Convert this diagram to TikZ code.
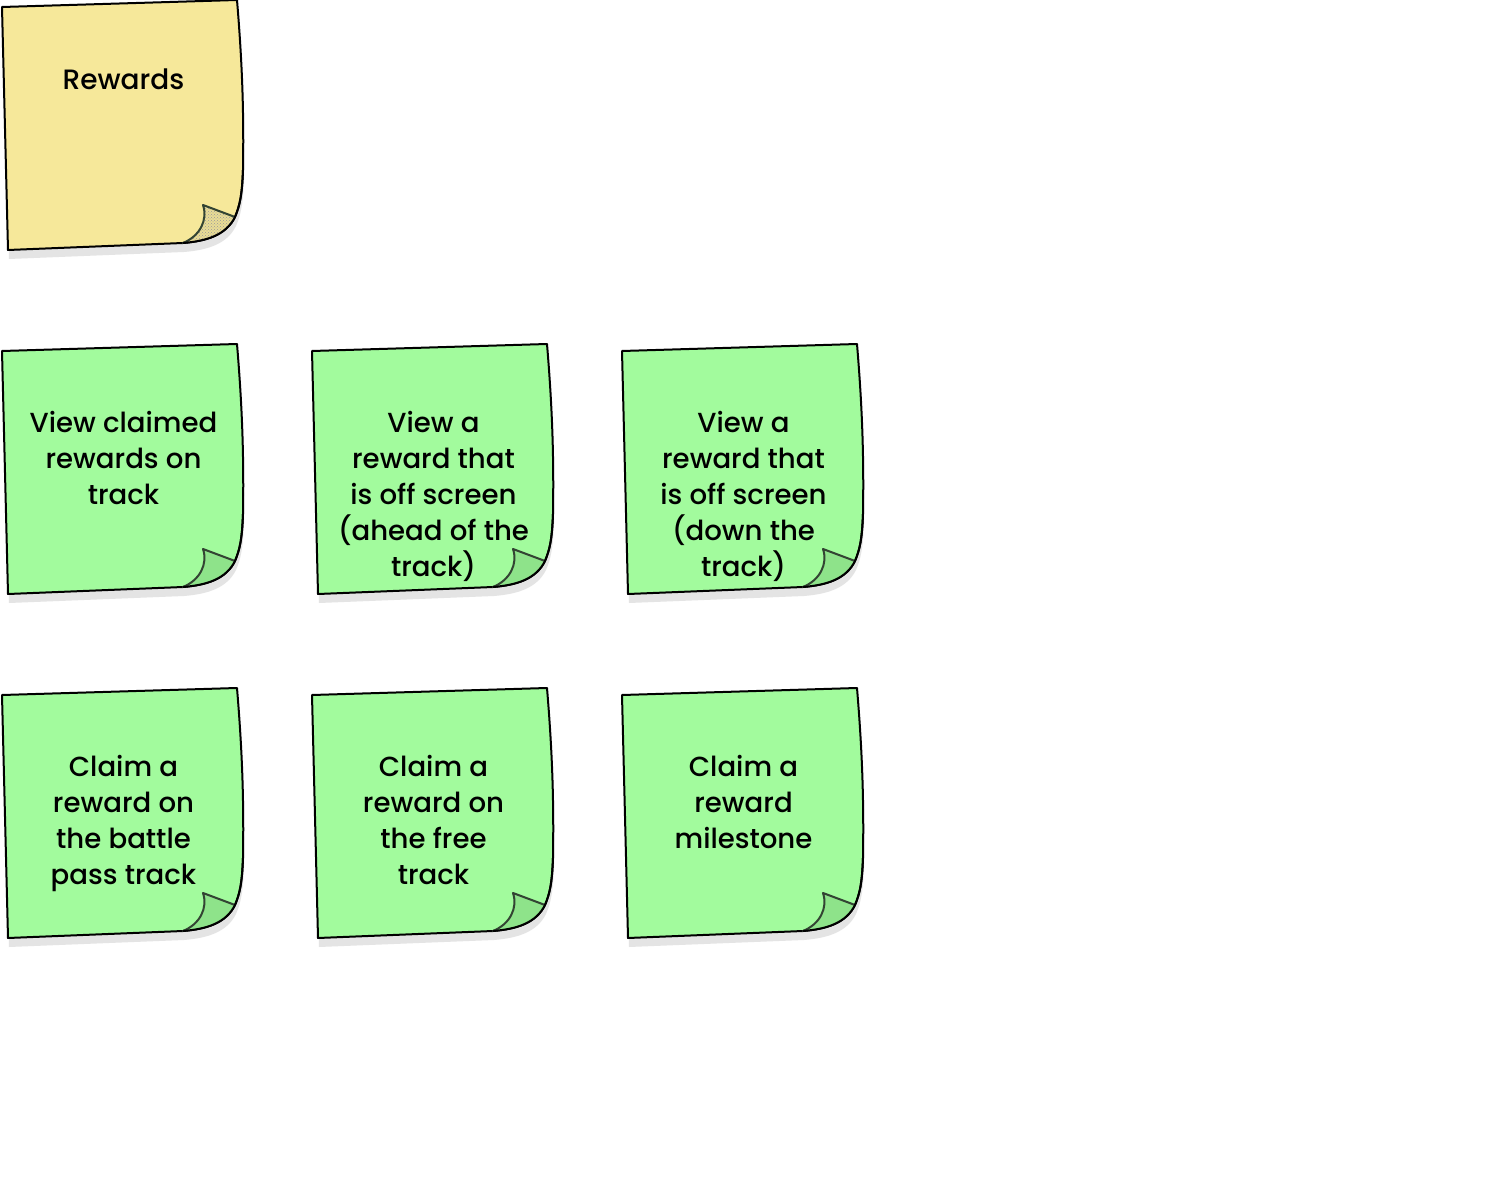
\documentclass[tikz,border=0pt]{standalone}
\usepackage{fontspec}
\setmainfont{Poppins}
\newfontfamily\medfont{Poppins Medium}
\usetikzlibrary{patterns}
\definecolor{notegreen}{HTML}{A2FB9D}
\definecolor{flapgreen}{HTML}{8EE38A}
\definecolor{noteyellow}{HTML}{F6E89A}
\definecolor{flapyellow}{HTML}{E9DC95}
\definecolor{shadowgray}{HTML}{E4E4E4}
\definecolor{flapline}{HTML}{334433}
\tikzset{
  noteline/.style={draw=black, line width=2pt, line join=round},
  flapedge/.style={draw=flapline, line width=2pt, line join=round, line cap=round},
  notetext/.style={anchor=base, align=center, font=\medfont\fontsize{27.6}{36}\selectfont, inner sep=0pt},
  titletext/.style={anchor=base, align=center, font=\medfont\fontsize{28}{38}\selectfont, inner sep=0pt}
}
\newcommand\noteoutline{(235,0) .. controls (240,60) and (242,110) .. (241,170) .. controls (240,195) and (238,205) .. (233,217) .. controls (224,235) and (205,241) .. (181,243) -- (6,250) -- (0,7) -- cycle}
\newcommand\noteflap{(201,205) -- (233,217) .. controls (224,235) and (205,241) .. (181,243) .. controls (198,236) and (206,220) .. (201,205) -- cycle}
\newcommand\stickynote[5]{%
  \begin{scope}[shift={(#1,#2)}]
    \fill[shadowgray, shift={(1,9)}] \noteoutline;
    \path[noteline, fill=#3] \noteoutline;
    \path[fill=#4] \noteflap;
    \draw[flapedge] (233,217) -- (201,205) .. controls (206,220) and (198,236) .. (181,243);
    \draw[noteline] (241,170) .. controls (240,195) and (238,205) .. (233,217) .. controls (224,235) and (205,241) .. (181,243);
    #5
  \end{scope}}
\begin{document}
\begin{tikzpicture}[x=1pt,y=-1pt]
\useasboundingbox[fill=white] (0,0) rectangle (1505,1182);
% title note
\begin{scope}[shift={(2,0)}]
  \fill[shadowgray, shift={(1,9)}] \noteoutline;
  \path[noteline, fill=noteyellow] \noteoutline;
  \path[fill=flapyellow] \noteflap;
  \path[pattern=crosshatch dots, pattern color=gray!80] \noteflap;
  \draw[flapedge] (233,217) -- (201,205) .. controls (206,220) and (198,236) .. (181,243);
  \draw[noteline] (241,170) .. controls (240,195) and (238,205) .. (233,217) .. controls (224,235) and (205,241) .. (181,243);
  \node[titletext] (rewards) at (121.5,90) {Rewards};
\end{scope}
% row 1 (anchor=base is the last line's baseline)
\stickynote{2}{344}{notegreen}{flapgreen}{\node[notetext] (viewclaimed) at (121.5,160) {View claimed\\rewards on\\track};}
\stickynote{312}{344}{notegreen}{flapgreen}{\node[notetext] (viewahead) at (121.5,232) {View a\\reward that\\is off screen\\(ahead of the\\track)};}
\stickynote{622}{344}{notegreen}{flapgreen}{\node[notetext] (viewdown) at (121.5,232) {View a\\reward that\\is off screen\\(down the\\track)};}
% row 2
\stickynote{2}{688}{notegreen}{flapgreen}{\node[notetext] (claimbattle) at (121.5,196) {Claim a\\reward on\\the battle\\pass track};}
\stickynote{312}{688}{notegreen}{flapgreen}{\node[notetext] (claimfree) at (121.5,196) {Claim a\\reward on\\the free\\track};}
\stickynote{622}{688}{notegreen}{flapgreen}{\node[notetext] (claimmilestone) at (121.5,160) {Claim a\\reward\\milestone};}
\end{tikzpicture}
\end{document}
